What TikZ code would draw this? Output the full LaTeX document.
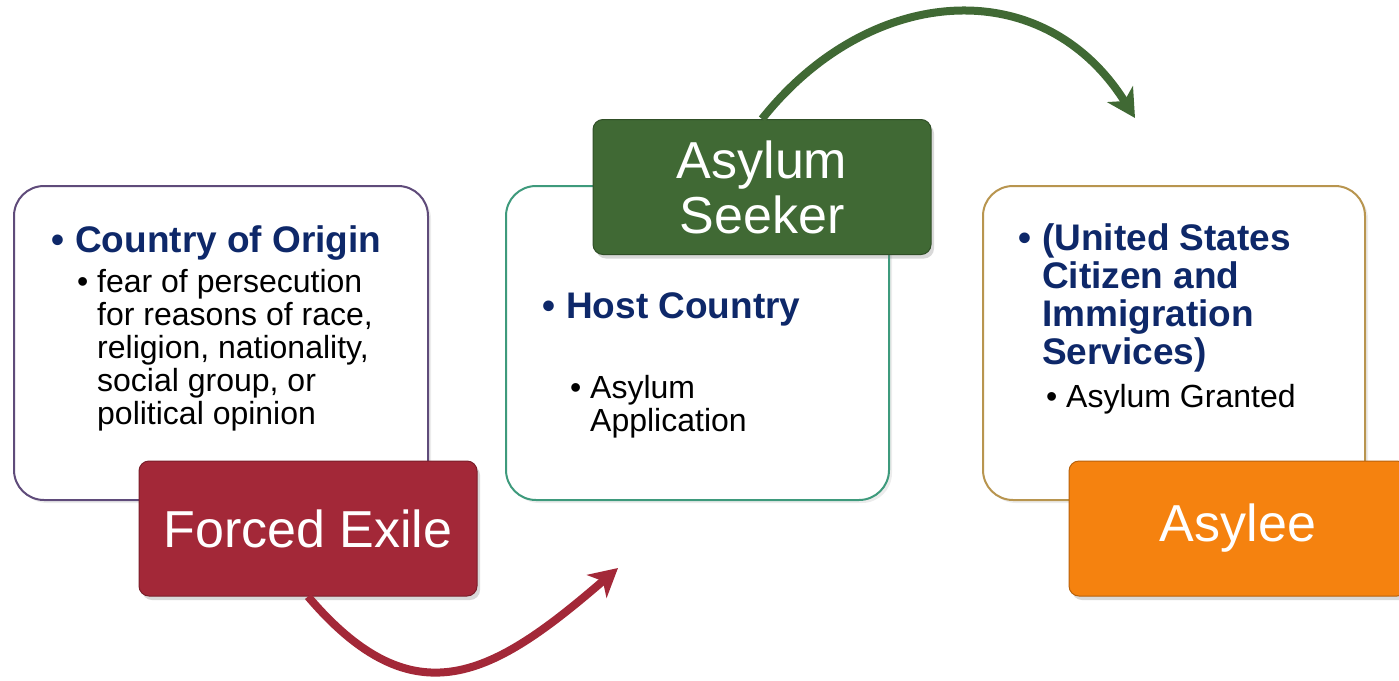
\documentclass[tikz,border=0pt]{standalone}
\usepackage{fontspec}
\setmainfont{Liberation Sans}
\usetikzlibrary{arrows.meta,shadows}
\definecolor{exilered}{RGB}{163,40,56}
\definecolor{seekergreen}{RGB}{64,105,52}
\definecolor{asyleeorange}{RGB}{245,130,15}
\definecolor{headblue}{RGB}{14,40,105}
\definecolor{originline}{RGB}{95,75,122}
\definecolor{hostline}{RGB}{62,154,124}
\definecolor{uscisline}{RGB}{184,149,79}
\newcommand{\itm}{\llap{\textbullet\ }}
\tikzset{
  panel/.style={draw=#1, line width=2pt, fill=white, rounded corners=30pt,
    minimum width=414pt, minimum height=314pt,
    drop shadow={shadow xshift=3pt, shadow yshift=-3pt, opacity=.15}},
  tag/.style={fill=#1, draw=#1!75!black, line width=1pt, rounded corners=10pt,
    minimum width=338pt, minimum height=135pt, inner sep=0pt,
    text=white, font=\fontsize{52}{55}\selectfont, align=center,
    drop shadow={shadow xshift=3pt, shadow yshift=-4pt, opacity=.3}},
  head/.style={anchor=base west, inner sep=0pt, text=headblue,
    font=\bfseries\fontsize{37}{38}\selectfont, align=left},
  sub/.style={anchor=base west, inner sep=0pt,
    font=\fontsize{32}{33}\selectfont, align=left},
  flow/.style={draw=#1, line width=8pt, -{Stealth[length=28pt,width=30pt,inset=8pt]}}
}
\begin{document}
\begin{tikzpicture}[x=1pt,y=-1pt]
\useasboundingbox (0,0) rectangle (1399,680);
% panels (text nodes sit on the baseline of their last line)
\node[panel=originline, minimum width=414pt] (origin) at (221,343) {};
\node[panel=hostline, minimum width=383pt] (host) at (697.5,343) {};
\node[panel=uscisline, minimum width=382pt] (uscis) at (1174,343) {};
\node[head] (originhead) at (75,252) {\itm Country of Origin};
\node[sub] (origintext) at (97,424) {\itm fear of persecution\\for reasons of race,\\religion, nationality,\\social group, or\\political opinion};
\node[head] (hosthead) at (566,318) {\itm Host Country};
\node[sub] (hosttext) at (590,431) {\itm Asylum\\Application};
\node[head] (uscishead) at (1042,364) {\itm (United States\\Citizen and\\Immigration\\Services)};
\node[sub] (uscistext) at (1066,407) {\itm Asylum Granted};
% tags
\node[tag=exilered] (exile) at (308,528.5) {Forced Exile};
\node[tag=seekergreen] (seeker) at (762,187) {Asylum\\Seeker};
\node[tag=asyleeorange] (asylee) at (1238,528.5) {Asylee};
% arrows
\coordinate (hostend) at (618,568);
\coordinate (asyleeend) at (1135,118);
\draw[flow=exilered] (exile.south) .. controls (415,722) and (494,675) .. (hostend);
\draw[flow=seekergreen] (seeker.north) .. controls (869,-16) and (1043,-29) .. (asyleeend);
\end{tikzpicture}
\end{document}
